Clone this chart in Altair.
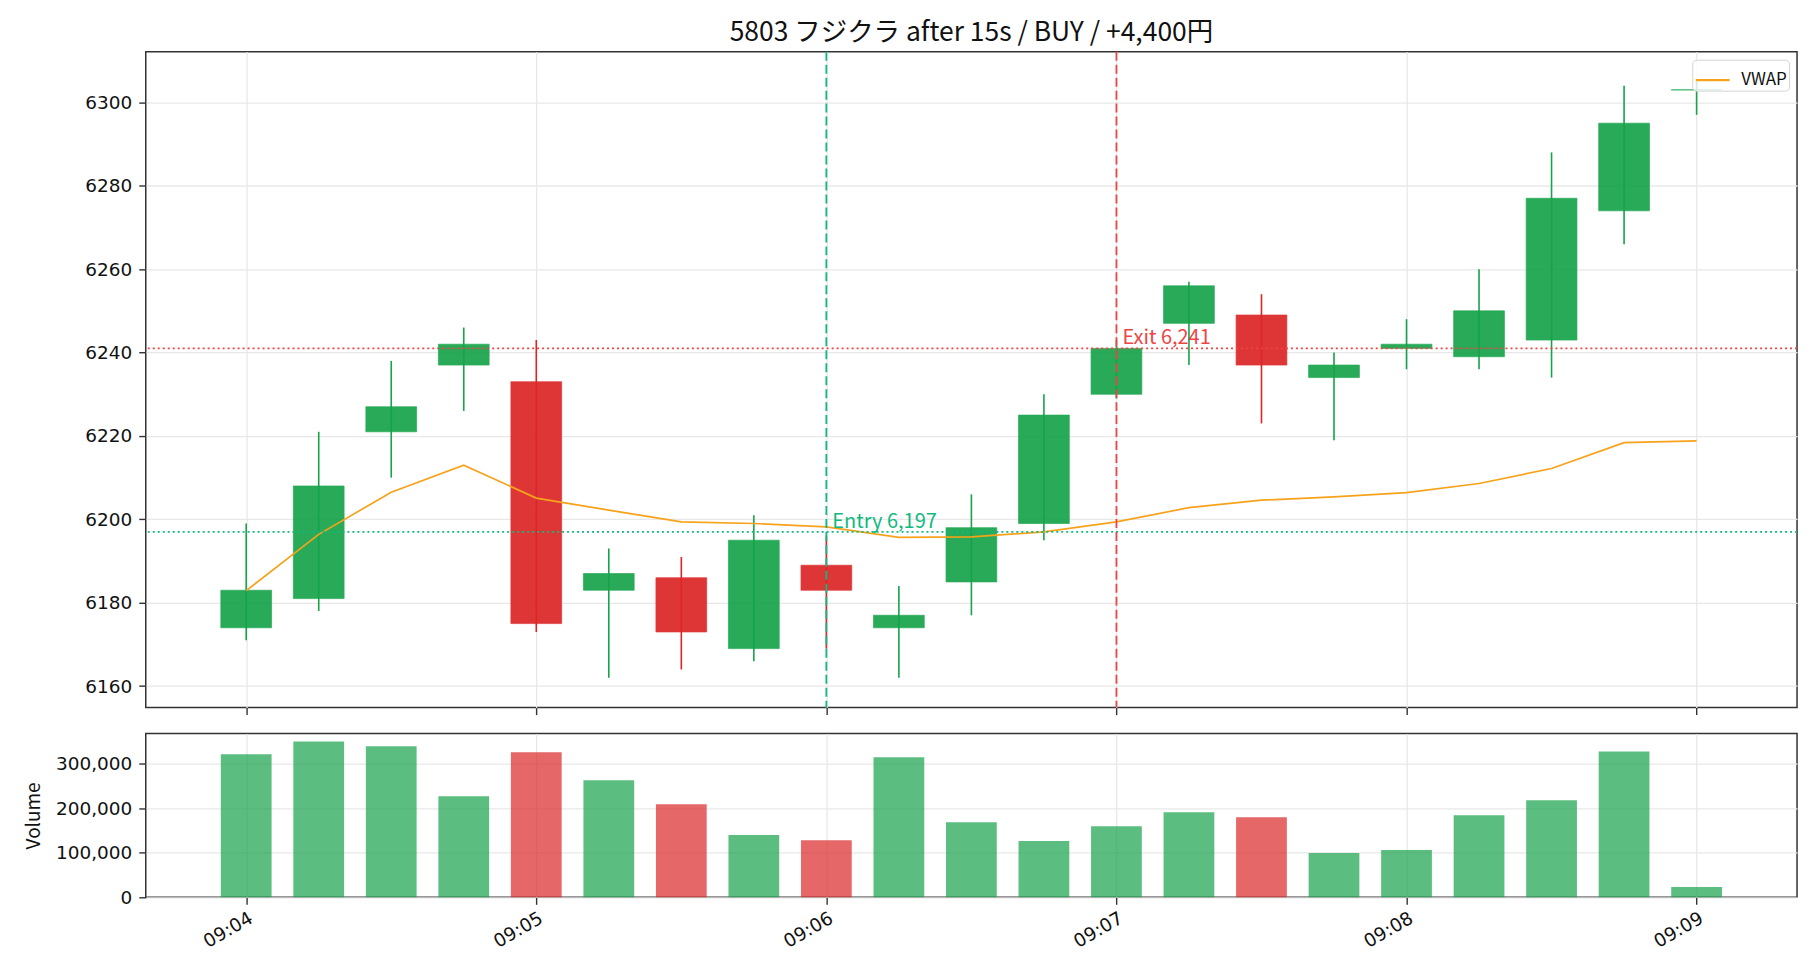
import altair as alt
import pandas as pd

# ---- data ----
times = ["09:04:00", "09:04:15", "09:04:30", "09:04:45", "09:05:00", "09:05:15", "09:05:30",
         "09:05:45", "09:06:00", "09:06:15", "09:06:30", "09:06:45", "09:07:00", "09:07:15",
         "09:07:30", "09:07:45", "09:08:00", "09:08:15", "09:08:30", "09:08:45", "09:09:00"]
opens = [6174, 6181, 6221, 6237, 6233, 6183, 6186, 6169, 6189, 6174, 6185, 6199, 6230, 6247,
         6249, 6234, 6241, 6239, 6243, 6274, 6303]
highs = [6199, 6221, 6238, 6246, 6243, 6193, 6191, 6201, 6196, 6184, 6206, 6230, 6243, 6257,
         6254, 6240, 6248, 6260, 6288, 6304, 6305]
lows = [6171, 6178, 6210, 6226, 6173, 6162, 6164, 6166, 6169, 6162, 6177, 6195, 6229, 6237,
        6223, 6219, 6236, 6236, 6234, 6266, 6297]
closes = [6183, 6208, 6227, 6242, 6175, 6187, 6173, 6195, 6183, 6177, 6198, 6225, 6241, 6256,
          6237, 6237, 6242, 6250, 6277, 6295, 6303]
volumes = [321600, 350800, 339600, 227400, 326100, 263300, 209400, 139900, 128600, 314900,
           169000, 126400, 160100, 191500, 180300, 99500, 106200, 184700, 218400, 328300, 23200]
vwap = [6182.9, 6196.4, 6206.5, 6213.0, 6205.1, 6202.2, 6199.4, 6199.0, 6198.2, 6195.7,
        6195.8, 6197.0, 6199.4, 6202.8, 6204.6, 6205.4, 6206.4, 6208.6, 6212.2, 6218.4, 6218.8]
tick_minutes = ["09:04", "09:05", "09:06", "09:07", "09:08", "09:09"]

entry_time, entry_price = "09:06:00", 6197
exit_time, exit_price = "09:07:00", 6241
title_text = "5803 フジクラ after 15s / BUY / +4,400円"

FONT = "Noto Sans CJK JP"
NUMFONT = "DejaVu Sans"
GREEN, RED = "#16a34a", "#dc2626"
ENTRY_C, EXIT_C = "#10b981", "#ef4444"


def secs(t):
    p = [int(v) for v in t.split(":")]
    while len(p) < 3:
        p.append(0)
    return (p[0] - 9) * 3600 + p[1] * 60 + p[2]


half = 15 * 0.35
df = pd.DataFrame({
    "t": [secs(t) for t in times], "open": opens, "high": highs, "low": lows,
    "close": closes, "volume": volumes, "vwap": vwap,
})
df["t0"] = df["t"] - half
df["t1"] = df["t"] + half
df["dir"] = ["up" if c >= o else "down" for o, c in zip(df["open"], df["close"])]
df["series"] = "VWAP"

span = (df["t1"].max() - df["t0"].min())
xdom = [df["t0"].min() - 0.05 * span, df["t1"].max() + 0.05 * span]
pr = max(highs) - min(lows)
ydom = [min(lows) - 0.05 * pr, max(highs) + 0.05 * pr]
vdom = [0, max(volumes) * 1.05]

tick_vals = [secs(m) for m in tick_minutes]
label_expr = "'09:' + (floor(datum.value/60) < 10 ? '0' : '') + floor(datum.value/60)"

xs = alt.Scale(domain=xdom, nice=False, zero=False)
ys = alt.Scale(domain=ydom, nice=False, zero=False)
vs = alt.Scale(domain=vdom, nice=False, zero=False)

AX = dict(labelFont=NUMFONT, titleFont=FONT, labelFontSize=18.5, titleFontSize=19,
          titleFontWeight="normal", labelColor="#111", titleColor="#111",
          tickColor="#333", tickWidth=1.4, gridColor="#e8e8e8", gridWidth=1.3,
          domain=False, tickSize=7)

x_axis_top = alt.Axis(values=tick_vals, labels=False, title=None, grid=True, ticks=True, **AX)
x_axis_bot = alt.Axis(values=tick_vals, labelExpr=label_expr, title=None, grid=True,
                      ticks=True, labelAngle=330, labelAlign="right", labelBaseline="top",
                      labelPadding=4, **AX)
y_axis_top = alt.Axis(values=list(range(6160, 6301, 20)), format="d", title=None, grid=True,
                      labelPadding=7, **AX)
y_axis_vol = alt.Axis(values=[0, 100000, 200000, 300000], format=",d", title="Volume",
                      grid=True, labelPadding=7, titlePadding=12, **AX)

base = alt.Chart(df)


def X(f):
    return alt.X(f, type="quantitative", scale=xs, axis=x_axis_top)


def Y(f):
    return alt.Y(f, type="quantitative", scale=ys, axis=y_axis_top)


layers = []
for d, col in (("up", GREEN), ("down", RED)):
    sub = base.transform_filter(alt.datum.dir == d)
    layers.append(sub.mark_rect(color=col, opacity=0.92, stroke=col, strokeWidth=1,
                                strokeOpacity=0.7).encode(
        x=X("t0"), x2="t1", y=Y("open"), y2="close"))
    layers.append(sub.mark_rule(color=col, strokeWidth=1.6).encode(
        x=X("t"), y=Y("low"), y2="high"))

vwap_line = base.mark_line(strokeWidth=1.7).encode(
    x=X("t"), y=Y("vwap"),
    color=alt.Color("series:N", scale=alt.Scale(domain=["VWAP"], range=["#f7a21b"]),
                    legend=alt.Legend(title=None, orient="top-right", offset=8,
                                      symbolType="stroke", symbolStrokeWidth=2.2,
                                      symbolSize=1150, labelFontSize=17, labelFont=FONT,
                                      strokeColor="#d4d4d4", fillColor="rgba(255,255,255,0.8)",
                                      cornerRadius=4, padding=2, labelOffset=10,
                                      labelColor="#111")))

marks_df = pd.DataFrame({
    "t": [secs(entry_time), secs(exit_time)],
    "price": [entry_price, exit_price],
    "kind": ["Entry", "Exit"],
})
marks_df["label"] = [f"{k} {p:,}" for k, p in zip(marks_df["kind"], marks_df["price"])]

ann = []
for kind, col in (("Entry", ENTRY_C), ("Exit", EXIT_C)):
    sub = alt.Chart(marks_df).transform_filter(alt.datum.kind == kind)
    ann.append(sub.mark_rule(color=col, strokeDash=[9, 4], strokeWidth=1.8).encode(x=X("t")))
    ann.append(sub.mark_rule(color=col, strokeDash=[2, 3], strokeWidth=1.6).encode(y=Y("price")))
    ann.append(sub.mark_text(color=col, align="left", baseline="alphabetic", dx=6, dy=-4,
                             fontSize=20, font=FONT).encode(
        x=X("t"), y=Y("price"), text="label:N"))

top = alt.layer(*layers, vwap_line, *ann).properties(
    width=1654, height=657,
    title=alt.Title(title_text, fontSize=26.5, font=FONT, fontWeight="normal", anchor="middle",
                    frame="group", offset=4, color="#111"),
)

vol_layers = []
for d, col in (("up", GREEN), ("down", RED)):
    sub = base.transform_filter(alt.datum.dir == d)
    vol_layers.append(sub.mark_rect(color=col, opacity=0.7).encode(
        x=alt.X("t0:Q", scale=xs, axis=x_axis_bot), x2="t1",
        y=alt.Y("volume:Q", scale=vs, axis=y_axis_vol), y2=alt.datum(0)))

bottom = alt.layer(*vol_layers).properties(width=1654, height=164)

chart = alt.vconcat(top, bottom, spacing=16).properties(
    padding={"left": 23, "top": 18, "right": 21, "bottom": 5},
    background="white",
).configure_view(stroke="#333", strokeWidth=1.5)

chart.save("out.html", embed_options={"renderer": "svg", "actions": False})
